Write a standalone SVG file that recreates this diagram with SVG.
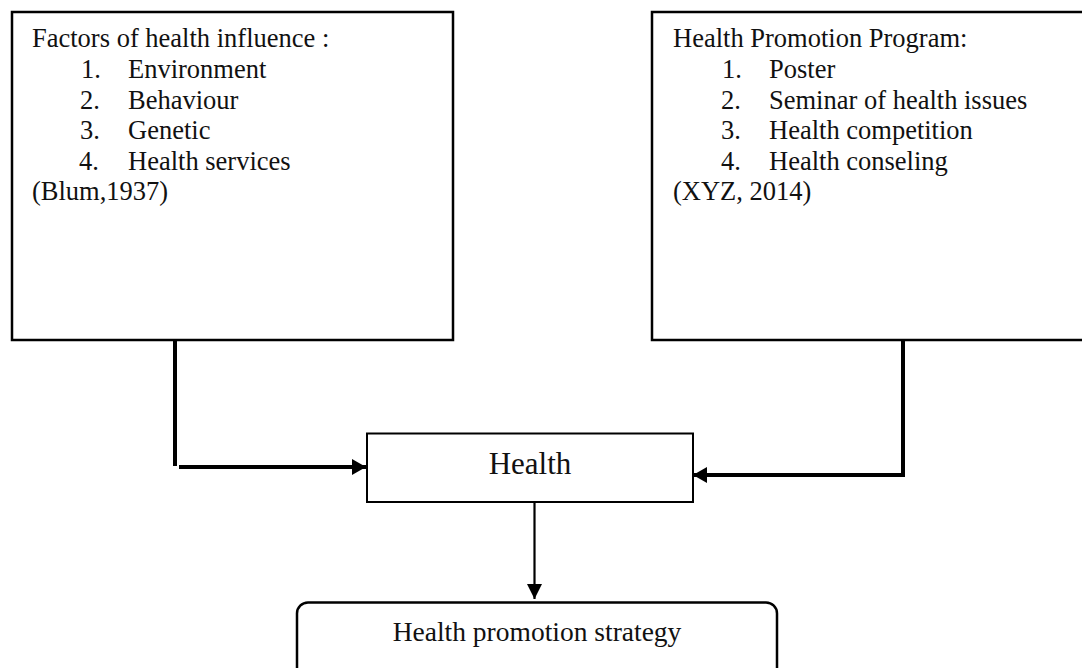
<svg xmlns="http://www.w3.org/2000/svg" width="1082" height="668" viewBox="0 0 1082 668">
<style>
.box{fill:#fff;stroke:#000;stroke-width:2.5}
.t{font-family:"Liberation Serif","Times New Roman",serif;fill:#111;font-size:26.5px}
.c{text-anchor:middle}
.thick{fill:none;stroke:#000;stroke-width:4}
.thin{fill:none;stroke:#000;stroke-width:2.2}
</style>
<defs>
<marker id="ah" markerUnits="userSpaceOnUse" markerWidth="14" markerHeight="16" viewBox="0 0 14 16" refX="14" refY="8" orient="auto">
<path d="M0,0 L14,8 L0,16 z" fill="#000"/>
</marker>
<marker id="ah2" markerUnits="userSpaceOnUse" markerWidth="15" markerHeight="15" viewBox="0 0 15 15" refX="15" refY="7.5" orient="auto">
<path d="M0,0 L15,7.5 L0,15 z" fill="#000"/>
</marker>
</defs>
<rect width="1082" height="668" fill="#fff"/>
<g id="connectors">
<path class="thick" d="M175 339 V466"/>
<path class="thick" d="M179 467 H366" marker-end="url(#ah)"/>
<path class="thick" d="M903 339 V475 H693" marker-end="url(#ah)"/>
<path class="thin" d="M534.5 502 V599" marker-end="url(#ah2)"/>
</g>
<g id="factors">
<rect class="box" x="12" y="12" width="441" height="328"/>
<text class="t" x="32" y="47">Factors of health influence :</text>
<text class="t" x="81" y="78">1.</text><text class="t" x="128" y="78">Environment</text>
<text class="t" x="80" y="108.5">2.</text><text class="t" x="128" y="108.5">Behaviour</text>
<text class="t" x="80" y="139">3.</text><text class="t" x="128" y="139">Genetic</text>
<text class="t" x="79" y="169.5">4.</text><text class="t" x="128" y="169.5">Health services</text>
<text class="t" x="32" y="200">(Blum,1937)</text>
</g>
<g id="program">
<rect class="box" x="652" y="12" width="440" height="328"/>
<text class="t" x="673" y="47">Health Promotion Program:</text>
<text class="t" x="722" y="78">1.</text><text class="t" x="769" y="78">Poster</text>
<text class="t" x="721" y="108.5">2.</text><text class="t" x="769" y="108.5">Seminar of health issues</text>
<text class="t" x="721" y="139">3.</text><text class="t" x="769" y="139">Health competition</text>
<text class="t" x="721" y="169.5">4.</text><text class="t" x="769" y="169.5">Health conseling</text>
<text class="t" x="673" y="200">(XYZ, 2014)</text>
</g>
<g id="health">
<rect class="box" x="367" y="433.5" width="326" height="68.5" style="stroke-width:2"/>
<text class="t c" x="530" y="474" style="font-size:31px">Health</text>
</g>
<g id="strategy">
<rect class="box" x="297" y="602.5" width="480" height="90" rx="11" ry="11"/>
<text class="t c" x="537" y="641" style="font-size:27.5px">Health promotion strategy</text>
</g>
</svg>
